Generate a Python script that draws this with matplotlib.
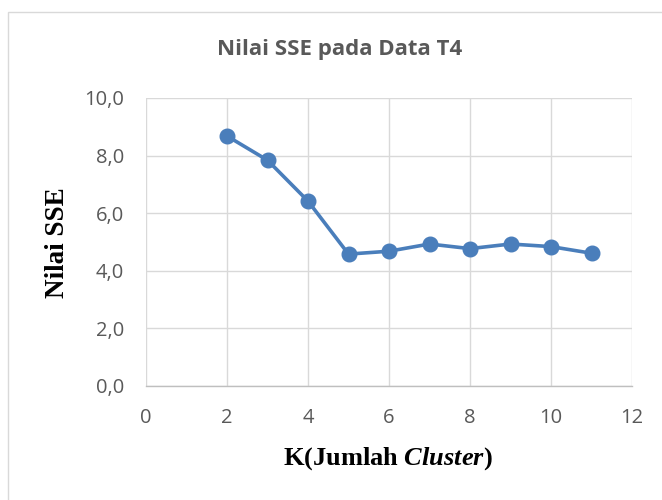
import matplotlib
matplotlib.use("Agg")
import matplotlib.pyplot as plt
from matplotlib.patches import Rectangle

k_values = [2, 3, 4, 5, 6, 7, 8, 9, 10, 11]
sse_values = [8.68, 7.84, 6.42, 4.58, 4.68, 4.93, 4.77, 4.93, 4.84, 4.61]
x_ticks = [0, 2, 4, 6, 8, 10, 12]
y_ticks = [0, 2, 4, 6, 8, 10]
y_tick_labels = ["0,0", "2,0", "4,0", "6,0", "8,0", "10,0"]

plt.rcParams['mathtext.fontset'] = 'custom'
plt.rcParams['mathtext.it'] = 'Liberation Serif:italic:bold'
plt.rcParams['mathtext.rm'] = 'Liberation Serif:bold'

fig = plt.figure(figsize=(6.62, 5.0), dpi=100)
W, H = 662, 500
fig.patches.append(Rectangle((8 / W, -0.01), 1.0, 1 - 12 / H + 0.01, transform=fig.transFigure,
                             fill=False, edgecolor='#d9d9d9', linewidth=1.0))

ax = fig.add_axes([146 / W, (H - 386) / H, (632 - 146) / W, (386 - 98) / H])
ax.set_xlim(0, 12)
ax.set_ylim(0, 10)
ax.set_xticks(x_ticks)
ax.set_yticks(y_ticks)
ax.set_yticklabels(y_tick_labels)
ax.grid(True, color='#d9d9d9', linewidth=1.0)
ax.set_axisbelow(True)
for s in ['top', 'right', 'left']:
    ax.spines[s].set_visible(False)
ax.spines['bottom'].set_color('#bfbfbf')
ax.spines['bottom'].set_linewidth(1.0)
ax.tick_params(length=0, labelsize=14.5, labelcolor='#595959')
ax.tick_params(axis='x', pad=16)
ax.tick_params(axis='y', pad=16)
for lab in ax.get_xticklabels() + ax.get_yticklabels():
    lab.set_fontfamily('Open Sans')

ax.plot(k_values, sse_values, color='#4a7ebb', linewidth=2.6, marker='o',
        markersize=10.5, markerfacecolor='#4a7ebb', markeredgecolor='#4a7ebb', clip_on=False)

fig.text(340 / W, 1 - 50 / H, "Nilai SSE pada Data T4", ha='center', va='center',
         fontsize=16, fontweight='bold', color='#595959', family='Open Sans')
fig.text(58 / W, 1 - 243 / H, "Nilai SSE", rotation=90, ha='center', va='center',
         fontsize=19.5, fontweight='bold', family='Liberation Serif', color='black')
fig.text(388 / W, 1 - 459 / H, r"K(Jumlah $\mathit{Cluster}$)", ha='center', va='center',
         fontsize=19, fontweight='bold', family='Liberation Serif', color='black')

fig.savefig("out.png", dpi=100)
